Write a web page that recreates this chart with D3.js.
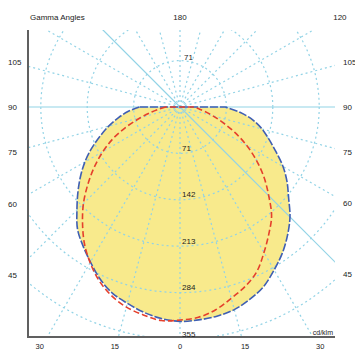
<!DOCTYPE html>
<html><head><meta charset="utf-8">
<script src="https://cdn.jsdelivr.net/npm/d3@7"></script>
<style>html,body{margin:0;padding:0;background:#fff;}svg{display:block;}</style>
</head><body>
<svg id="chart" width="355" height="352"></svg>
<script>
// ---- data ----
const gammaAngles = [0,5,10,15,20,25,30,35,40,45,50,55,60,65,70,75,80,85,90];
// C0 plane (right half, blue, filled)
const c0Values   = [328,327,325,321,313,303,288,273,256,238,217,200,182,162,145,130,113,92,69];
// C180 plane (left half, blue, filled)
const c180Values = [328,325,319,311,303,290,274,259,244,223,204,186,168,149,130,113,96,80,62];
// C90 plane (right half, red dashed)
const c90Values  = [326,323,315,303,292,278,257,237,218,192,168,143,118,93,70,52,38,28,22];
// C270 plane (left half, red dashed)
const c270Values = [331,328,323,317,307,293,275,255,232,209,184,160,136,112,86,62,44,31,22];
const ringValues = [71,142,213,284,355];
const ringLabels = ["71","142","213","284","355"];
const radialAngles = [0,15,30,45,60,75,90,105,120,135,150,165,180];
const sideLabelAngles = [45,60,75,90,105];
const bottomLabelAngles = [30,15,0,15,30];
const bottomLabelSides = [-1,-1,0,1,1];
const topLabels = [{a:180,s:0},{a:120,s:1}];
const titleText = "Gamma Angles";
const unitText = "cd/klm";

// ---- layout ----
const svg = d3.select("#chart");
const cx = 180, cy = 107;
const fx0 = 28, fx1 = 335, fy0 = 30, fy1 = 337;
const r = d3.scaleLinear().domain([0,355]).range([0,232]);
const deg = Math.PI/180;
const gridColor = "#92d3e6";

svg.append("defs").append("clipPath").attr("id","frame")
  .append("rect").attr("x",fx0).attr("y",fy0).attr("width",fx1-fx0).attr("height",fy1-fy0);

const clipG = svg.append("g").attr("clip-path","url(#frame)")
  .append("g").attr("transform",`translate(${cx},${cy})`);

// build polar point lists: left half gamma 90 -> 5, right half 0 -> 90
function halfPoints(leftVals, rightVals){
  const pts = [];
  for (let i = gammaAngles.length-1; i >= 1; i--) pts.push({a: Math.PI + gammaAngles[i]*deg, v: leftVals[i]});
  for (let i = 0; i < gammaAngles.length; i++) pts.push({a: Math.PI - gammaAngles[i]*deg, v: rightVals[i]});
  return pts;
}
const line = d3.lineRadial().angle(d=>d.a).radius(d=>r(d.v)).curve(d3.curveCatmullRom);

const bluePts = halfPoints(c180Values, c0Values);
const redPts = halfPoints(c270Values, c90Values);

// yellow fill
clipG.append("path").attr("d", line(bluePts)+"Z").attr("fill","#f8ea8c").attr("stroke","none");

// grid circles
clipG.selectAll("circle.ring").data(ringValues).join("circle")
  .attr("r", d=>r(d)).attr("fill","none").attr("stroke",gridColor)
  .attr("stroke-width",1.2).attr("stroke-dasharray","2,3");

// radial lines
const radials = [];
radialAngles.forEach(a=>{ radials.push({a, s:1}); if (a!==0 && a!==180) radials.push({a, s:-1}); });
clipG.selectAll("line.radial").data(radials).join("line")
  .attr("x1",0).attr("y1",0)
  .attr("x2", d=> d.s*500*Math.sin(d.a*deg))
  .attr("y2", d=> 500*Math.cos(d.a*deg))
  .attr("stroke",gridColor).attr("stroke-width",1.2)
  .attr("stroke-dasharray", d=> (d.a===90 || (d.a===45 && d.s===1) || (d.a===135 && d.s===-1)) ? null : "2,3");

// curves
clipG.append("path").attr("d", line(bluePts)+"Z").attr("fill","none")
  .attr("stroke","#3f5fb3").attr("stroke-width",1.6).attr("stroke-dasharray","8,2");
clipG.append("path").attr("d", line(redPts)+"Z").attr("fill","none")
  .attr("stroke","#e5402c").attr("stroke-width",1.6).attr("stroke-dasharray","6,3");

// axes (left and bottom)
svg.append("line").attr("x1",fx0).attr("y1",fy0).attr("x2",fx0).attr("y2",fy1)
  .attr("stroke","#606060").attr("stroke-width",2);
svg.append("line").attr("x1",fx0-1).attr("y1",fy1).attr("x2",fx1).attr("y2",fy1)
  .attr("stroke","#606060").attr("stroke-width",2);

const font = "'Liberation Sans', Arial, sans-serif";
function txt(x,y,s,anchor,size){
  svg.append("text").attr("x",x).attr("y",y).attr("text-anchor",anchor||"start")
    .attr("font-family",font).attr("font-size",size||8).attr("fill","#222").text(s);
}

// ring labels
txt(cx+4, cy - r(ringValues[0]) - 0.5, ringLabels[0]);
ringValues.forEach((v,i)=> txt(cx+2, cy + r(v) - 2.5, ringLabels[i]));

// side labels
sideLabelAngles.forEach(a=>{
  const t = Math.cos(a*deg)/Math.sin(a*deg);
  txt(8, cy + 168*t + 3, String(a));
  txt(343, cy + 167*t + 3, String(a));
});
// bottom labels
bottomLabelAngles.forEach((a,i)=>{
  txt(cx + bottomLabelSides[i]*243*Math.tan(a*deg), 349, String(a), "middle", 7.5);
});
// top labels
topLabels.forEach(d=>{
  txt(cx + d.s*90*Math.tan((180-d.a)*deg) + (d.s?4:0), 20, String(d.a), "middle");
});
txt(30, 20, titleText);
txt(333, 335, unitText, "end", 7);
</script>
</body></html>
